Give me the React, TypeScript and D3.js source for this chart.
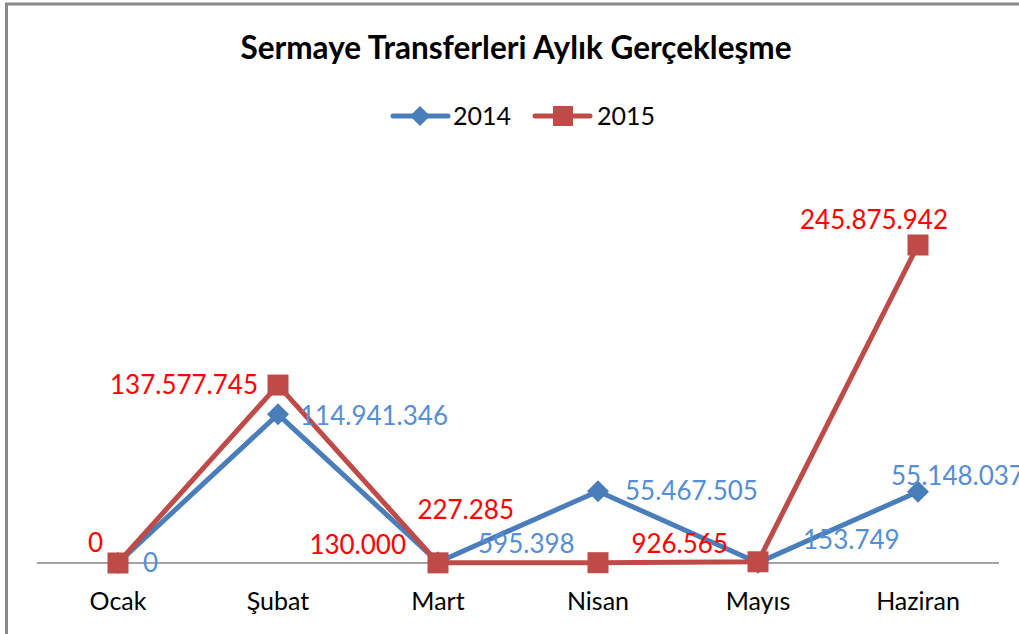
import React from "react";
import * as d3 from "d3";

const categories = ["Ocak", "Şubat", "Mart", "Nisan", "Mayıs", "Haziran"];
const values2014 = [0, 114941346, 595398, 55467505, 153749, 55148037];
const values2015 = [0, 137577745, 130000, 227285, 926565, 245875942];
const seriesNames = ["2014", "2015"];
// label offsets relative to point (dx, dy, anchor)
const labelOffsets2014: [number, number, string][] = [
  [25, 0, "start"], [22, 2, "start"], [40, -18, "start"], [27, 0, "start"], [45, -23, "start"], [-27, -16, "start"],
];
const labelOffsets2015: [number, number, string][] = [
  [-15, -20, "end"], [-20, 0, "end"], [-32, -18, "end"], [-84, -53, "end"], [-30, -18, "end"], [-44, -25, "middle"],
];

const fmt = (v: number) => d3.format(",")(v).replace(/,/g, ".");

export default function App() {
  const W = 1019, H = 634;
  const x = d3.scaleBand().domain(categories).range([38, 998]);
  const y = d3.scaleLinear().domain([0, 245875942]).range([563, 245]);
  const cx = (c: string) => (x(c) as number) + x.bandwidth() / 2;
  const line = d3.line<number>().x((_, i) => cx(categories[i])).y((v) => y(v));
  const blue = "#4A7EBB", red = "#BE4B48";
  const blueLbl = "#558ED5", redLbl = "#FF0000";
  const font = "Lato, 'Open Sans', sans-serif";
  const diamond = (px: number, py: number, r: number) =>
    `M${px},${py - r}L${px + r},${py}L${px},${py + r}L${px - r},${py}Z`;
  return (
    <svg width={W} height={H} style={{ position: "absolute", left: 0, top: 0 }} fontFamily={font}>
      <rect x={0} y={0} width={W} height={H} fill="#fff" />
      <rect x={6.5} y={4} width={W + 20} height={H + 20} fill="none" stroke="#8a8a8a" strokeWidth={3} />
      <text x={516} y={59} textAnchor="middle" fontSize={31.5} fontWeight="bold" fill="#000">
        Sermaye Transferleri Aylık Gerçekleşme
      </text>
      {/* legend */}
      <g>
        <line x1={393} x2={448} y1={116} y2={116} stroke={blue} strokeWidth={5} strokeLinecap="round" />
        <path d={diamond(420, 116, 10)} fill={blue} />
        <text x={453} y={125} fontSize={25} fill="#000">{seriesNames[0]}</text>
        <line x1={535} x2={590} y1={116} y2={116} stroke={red} strokeWidth={5} strokeLinecap="round" />
        <rect x={553} y={106} width={20} height={20} fill={red} />
        <text x={597} y={125} fontSize={25} fill="#000">{seriesNames[1]}</text>
      </g>
      {/* axis */}
      <line x1={37} x2={999} y1={563} y2={563} stroke="#868686" strokeWidth={1.3} />
      {categories.map((c) => (
        <text key={c} x={cx(c)} y={610} textAnchor="middle" fontSize={25} fill="#000">{c}</text>
      ))}
      {/* series */}
      <path d={line(values2014) || ""} fill="none" stroke={blue} strokeWidth={5} strokeLinejoin="round" />
      {values2014.map((v, i) => (
        <path key={"d" + i} d={diamond(cx(categories[i]), y(v), 11)} fill={blue} />
      ))}
      <path d={line(values2015) || ""} fill="none" stroke={red} strokeWidth={5} strokeLinejoin="round" />
      {values2015.map((v, i) => (
        <rect key={"s" + i} x={cx(categories[i]) - 10.5} y={y(v) - 10.5} width={21} height={21} fill={red} />
      ))}
      {values2014.map((v, i) => (
        <text key={"l4" + i} x={cx(categories[i]) + labelOffsets2014[i][0]} y={y(v) + labelOffsets2014[i][1]}
          dy="0.35em" textAnchor={labelOffsets2014[i][2] as any} fontSize={26} fill={blueLbl}>{fmt(v)}</text>
      ))}
      {values2015.map((v, i) => (
        <text key={"l5" + i} x={cx(categories[i]) + labelOffsets2015[i][0]} y={y(v) + labelOffsets2015[i][1]}
          dy="0.35em" textAnchor={labelOffsets2015[i][2] as any} fontSize={26} fill={redLbl}>{fmt(v)}</text>
      ))}
    </svg>
  );
}
